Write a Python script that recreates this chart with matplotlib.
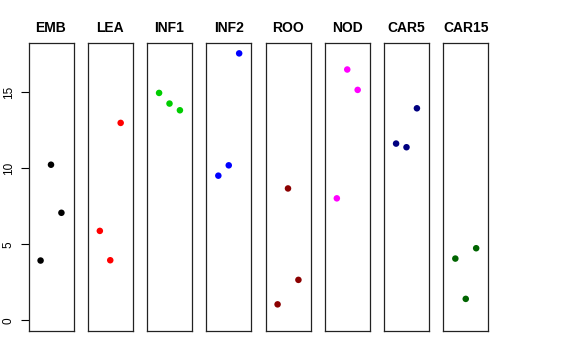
import matplotlib
matplotlib.use("Agg")
import matplotlib.pyplot as plt

groups = ["EMB", "LEA", "INF1", "INF2", "ROO", "NOD", "CAR5", "CAR15"]
colors = ["black", "red", "#00CD00", "blue", "#8B0000", "magenta", "#000080", "#006400"]
EMB = [3.93, 10.23, 7.07]
LEA = [5.88, 3.95, 12.98]
INF1 = [14.95, 14.25, 13.81]
INF2 = [9.51, 10.19, 17.55]
ROO = [1.05, 8.67, 2.66]
NOD = [8.02, 16.49, 15.15]
CAR5 = [11.62, 11.38, 13.94]
CAR15 = [4.06, 1.41, 4.74]
values = [EMB, LEA, INF1, INF2, ROO, NOD, CAR5, CAR15]
reps = [1, 2, 3]
yticks = [0, 5, 10, 15]

W, H = 576, 360
fig = plt.figure(figsize=(W / 100, H / 100), dpi=100)

ymax = max(max(v) for v in values)
ypad = 0.04 * ymax
left0, step, pw = 28.5, 59.25, 45.0
top_px, bot_px = 42.7, 331.0

for i, (g, c, v) in enumerate(zip(groups, colors, values)):
    l = left0 + i * step
    ax = fig.add_axes([l / W, (H - bot_px) / H, pw / W, (bot_px - top_px) / H])
    ax.scatter(reps, v, s=22, color=c, edgecolors="none", zorder=3)
    ax.set_xlim(0 - 0.16, 4 + 0.16)
    ax.set_ylim(0 - ypad, ymax + ypad)
    ax.set_xticks([])
    ax.set_title(g, fontsize=10, fontweight="bold", pad=8, family="Liberation Sans")
    for s in ax.spines.values():
        s.set_linewidth(0.9)
        s.set_color("#222222")
    if i == 0:
        ax.set_yticks(yticks)
        ax.set_yticklabels([str(t) for t in yticks], rotation=90, va="center",
                           fontsize=8.5, family="Liberation Sans")
        ax.tick_params(axis="y", length=6, width=0.8, pad=4)
    else:
        ax.set_yticks([])

fig.savefig("out.png", dpi=100)
